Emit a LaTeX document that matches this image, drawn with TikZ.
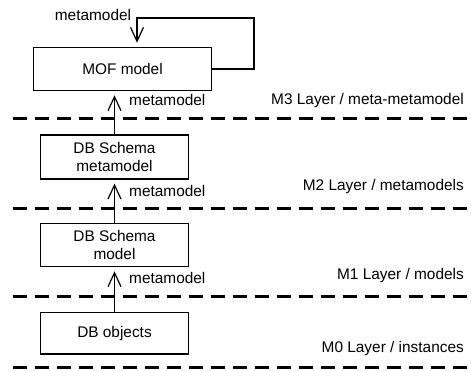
\documentclass[tikz,border=0pt]{standalone}
\usepackage{fontspec}
\setmainfont{Liberation Sans}
\usetikzlibrary{arrows.meta}
\begin{document}
\begin{tikzpicture}[x=1pt,y=-1pt,
  every node/.style={font=\fontsize{15.4}{17.7}\selectfont},
  box/.style={draw, line width=1.2pt, inner sep=0pt, align=center},
  conn/.style={line width=1.2pt, -{Straight Barb[length=14pt,width=13pt]}, shorten >=4pt},
  layerline/.style={line width=3pt, dash pattern=on 14pt off 8pt},
  lbl/.style={inner sep=0pt, anchor=base west},
  layerlbl/.style={inner sep=0pt, anchor=base east}]
\useasboundingbox (0,0) rectangle (471,370);

% model elements
\node[box, minimum width=178.4pt, minimum height=43.4pt] (mof) at (122.5,69) {MOF model};
\node[box, minimum width=147.6pt, minimum height=44pt] (dbmeta) at (114.5,157) {DB Schema\\metamodel};
\node[box, minimum width=147.6pt, minimum height=43.4pt] (dbmodel) at (114.5,245) {DB Schema\\model};
\node[box, minimum width=147.6pt, minimum height=41.3pt] (dbobj) at (114.5,333.3) {DB objects};

% layer separators
\coordinate (s3a) at (12.7,118.3); \coordinate (s3b) at (471,118.3);
\coordinate (s2a) at (12.7,208);   \coordinate (s2b) at (471,208);
\coordinate (s1a) at (12.7,296.5); \coordinate (s1b) at (471,296.5);
\coordinate (s0a) at (12.7,367.5); \coordinate (s0b) at (471,367.5);
\draw[layerline] (s3a) -- (s3b);
\draw[layerline] (s2a) -- (s2b);
\draw[layerline] (s1a) -- (s1b);
\draw[layerline] (s0a) -- (s0b);

% instance-of relations
\draw[conn] (dbmeta.north) -- (dbmeta.north |- mof.south);
\draw[conn] (dbmodel.north) -- (dbmeta.south);
\draw[conn] (dbobj.north) -- (dbmodel.south);

% MOF describes itself
\coordinate (loopr) at (254,69);
\coordinate (loopt) at (254,18);
\coordinate (loopl) at (137,18);
\draw[conn] (mof.east) -- (loopr) -- (loopt) -- (loopl) -- (loopl |- mof.north);

% relation labels
\node[inner sep=0pt, anchor=base] (ltop) at (93,20.5) {metamodel};
\node[lbl] (l3) at (129,105.5) {metamodel};
\node[lbl] (l2) at (129,196) {metamodel};
\node[lbl] (l1) at (129,283.5) {metamodel};

% layer names
\node[layerlbl] (m3) at (464,104.5) {M3 Layer / meta-metamodel};
\node[layerlbl] (m2) at (464,190.5) {M2 Layer / metamodels};
\node[layerlbl] (m1) at (464,279) {M1 Layer / models};
\node[layerlbl] (m0) at (464,352.5) {M0 Layer / instances};
\end{tikzpicture}
\end{document}
